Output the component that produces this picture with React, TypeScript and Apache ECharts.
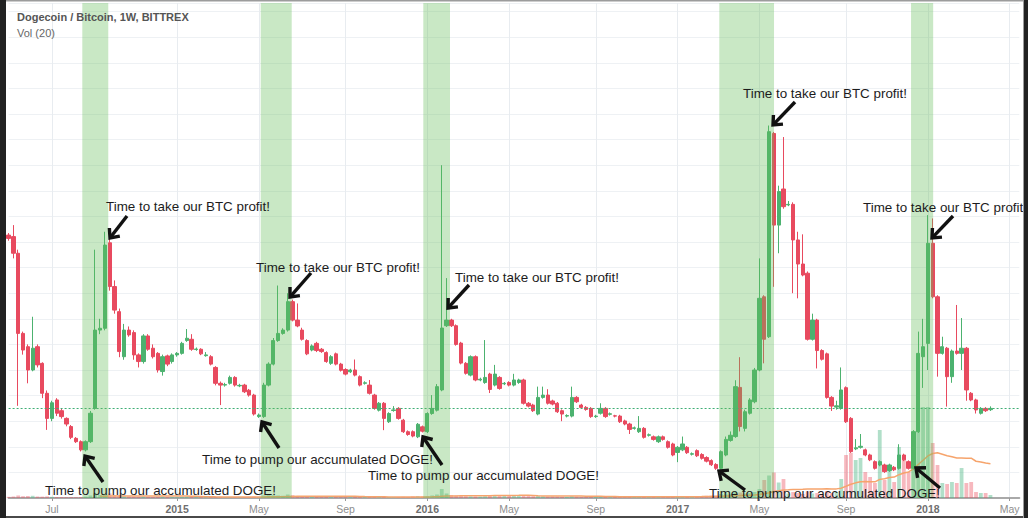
import React, { useEffect, useRef } from 'react';
import * as echarts from 'echarts';

// Weekly DOGE/BTC bars (satoshi), first bar = week of 2014-05-05
const FIRST_WEEK = Date.UTC(2014, 4, 5);
const DAY = 86400000;
const WEEK_SLOTS = 211; // bars plus empty room up to May 2018

const tickWeeks = [9, 35, 52, 70, 87, 104, 122, 139, 156, 174, 191, 208];
const tickLabels = ['Jul', '2015', 'May', 'Sep', '2016', 'May', 'Sep', '2017', 'May', 'Sep', '2018', 'May'];

const opens = [
  112.7, 112.1, 105.6, 74.3, 69.1, 60.0, 69.1, 62.6, 50.9, 41.1,
  48.3, 44.1, 41.1, 37.9, 33.3, 32.0, 28.8, 32.0, 45.0, 75.6,
  76.3, 109.7, 92.6, 82.8, 65.2, 75.6, 74.6, 65.9, 63.3, 73.3,
  68.5, 66.5, 59.4, 65.5, 63.3, 65.9, 66.5, 71.5, 72.0, 68.0,
  68.1, 65.6, 65.2, 61.0, 54.8, 54.1, 54.8, 57.1, 53.8, 54.1,
  52.1, 50.2, 41.8, 41.8, 54.1, 62.3, 71.5, 74.3, 75.6, 86.7,
  79.5, 75.6, 71.5, 67.8, 70.4, 68.1, 66.8, 62.6, 66.3, 62.3,
  60.2, 59.3, 60.0, 57.4, 54.8, 54.1, 50.2, 44.3, 47.0, 39.8,
  44.2, 45.0, 40.4, 35.9, 35.9, 33.9, 37.8, 35.9, 43.0, 44.3,
  52.2, 77.3, 79.5, 77.3, 70.5, 62.6, 58.0, 65.2, 56.1, 55.1,
  58.4, 54.1, 57.1, 54.6, 55.1, 54.1, 55.1, 56.1, 47.0, 46.3,
  42.8, 49.3, 50.2, 47.9, 47.0, 44.1, 42.0, 42.0, 49.3, 46.3,
  45.4, 45.0, 41.8, 43.1, 45.0, 42.7, 42.1, 42.0, 40.1, 38.9,
  37.2, 35.9, 37.2, 34.5, 33.9, 32.0, 33.9, 32.0, 31.1, 27.8,
  28.8, 29.8, 27.1, 28.5, 27.0, 25.8, 24.6, 23.1, 21.6, 26.8,
  32.5, 34.0, 53.2, 37.2, 43.1, 47.6, 60.0, 88.6, 73.0, 152.4,
  116.6, 130.7, 124.5, 124.7, 110.8, 101.4, 97.8, 72.0, 79.5, 67.6,
  66.3, 49.3, 45.5, 45.0, 53.1, 41.1, 29.2, 29.8, 28.8, 26.8,
  24.2, 22.9, 22.9, 20.7, 22.0, 21.6, 26.8, 24.2, 21.6, 35.9,
  65.2, 70.4, 109.5, 88.6, 66.5, 68.5, 57.4, 67.4, 66.5, 68.5,
  50.9, 48.3, 43.1, 45.0, 44.5,
];

const closes = [
  111.4, 105.6, 74.3, 67.8, 60.0, 68.5, 62.0, 50.9, 41.1, 47.2,
  43.1, 41.8, 38.9, 33.7, 32.0, 28.8, 32.0, 43.1, 75.6, 76.3,
  108.8, 92.6, 83.4, 67.2, 75.6, 73.7, 65.9, 63.3, 73.3, 68.1,
  65.2, 60.0, 65.2, 62.3, 65.9, 66.5, 70.4, 72.4, 68.1, 68.2,
  66.3, 65.9, 62.3, 54.8, 54.1, 54.3, 57.1, 54.1, 54.0, 51.5,
  50.2, 42.8, 42.4, 54.1, 62.3, 71.5, 74.3, 75.6, 86.7, 79.5,
  77.2, 72.0, 66.3, 69.4, 67.6, 67.2, 63.3, 65.2, 62.3, 59.9,
  58.4, 60.0, 58.0, 54.1, 55.0, 50.9, 45.0, 47.0, 41.1, 43.0,
  44.4, 41.1, 35.9, 34.8, 34.2, 38.8, 36.1, 43.0, 45.0, 53.5,
  76.4, 79.5, 77.3, 70.0, 62.7, 58.7, 65.2, 56.1, 56.4, 57.1,
  52.4, 58.4, 52.8, 54.8, 54.1, 56.1, 56.1, 47.0, 45.9, 44.1,
  49.3, 50.2, 47.0, 46.7, 43.7, 42.8, 42.2, 49.3, 47.6, 45.4,
  44.6, 41.8, 42.0, 45.0, 41.8, 42.9, 42.0, 39.8, 38.9, 36.8,
  37.4, 37.2, 33.7, 34.7, 32.9, 33.9, 32.9, 29.8, 26.8, 29.8,
  31.1, 27.7, 27.3, 26.5, 25.5, 24.4, 23.0, 21.6, 28.1, 32.9,
  34.5, 53.5, 37.9, 43.7, 48.3, 60.0, 88.0, 72.0, 153.1, 116.6,
  129.7, 123.8, 124.7, 110.8, 101.4, 97.1, 72.0, 79.5, 67.6, 64.2,
  49.3, 45.9, 46.0, 52.2, 39.8, 28.1, 29.6, 30.2, 26.8, 24.9,
  21.6, 24.2, 20.3, 22.9, 21.0, 26.8, 24.9, 21.6, 35.9, 66.5,
  69.1, 109.5, 88.6, 66.5, 69.1, 57.4, 67.4, 66.5, 68.5, 52.2,
  48.3, 44.4, 45.0, 44.1, 45.0,
];

const lows = [
  110.5, 103.6, 46.0, 66.0, 54.8, 59.5, 61.0, 49.0, 36.6, 40.0,
  42.0, 41.0, 38.0, 33.0, 31.5, 28.2, 28.2, 31.5, 44.5, 74.0,
  75.5, 91.0, 82.0, 65.0, 64.0, 73.0, 64.0, 61.0, 62.5, 67.5,
  64.5, 59.0, 57.8, 61.5, 62.5, 65.2, 66.0, 71.0, 67.5, 67.5,
  65.8, 65.2, 61.8, 54.0, 46.3, 53.5, 54.3, 53.5, 53.3, 51.0,
  49.6, 42.2, 41.3, 41.3, 53.6, 61.8, 71.0, 73.8, 75.0, 79.0,
  76.7, 71.5, 65.8, 67.3, 67.0, 66.7, 62.8, 62.0, 61.8, 59.4,
  57.9, 58.8, 57.5, 53.6, 54.3, 50.4, 44.5, 43.8, 36.5, 39.3,
  43.7, 40.6, 35.4, 34.3, 33.7, 33.4, 35.6, 35.4, 42.5, 43.8,
  51.7, 76.8, 76.8, 69.5, 62.2, 58.2, 57.5, 55.6, 55.6, 54.6,
  51.0, 53.6, 52.3, 54.1, 53.6, 53.6, 54.6, 46.5, 45.4, 43.6,
  42.3, 48.8, 46.5, 46.2, 43.2, 40.0, 41.5, 41.5, 47.1, 44.9,
  44.1, 41.3, 41.3, 42.6, 41.3, 42.2, 41.5, 39.3, 38.4, 35.0,
  36.7, 35.4, 33.2, 34.0, 32.4, 31.5, 32.4, 29.3, 26.3, 24.0,
  28.3, 27.2, 26.6, 26.0, 25.0, 23.9, 22.5, 21.0, 21.1, 26.3,
  32.0, 33.5, 36.0, 36.0, 42.6, 47.0, 59.5, 62.6, 72.5, 92.5,
  105.6, 123.0, 124.0, 90.0, 88.0, 96.6, 71.5, 71.5, 60.6, 63.7,
  48.8, 44.0, 44.5, 44.5, 39.3, 27.6, 28.7, 29.3, 26.3, 24.4,
  21.1, 22.4, 19.8, 20.2, 20.5, 21.1, 24.4, 21.1, 21.1, 35.4,
  53.0, 60.0, 88.0, 57.4, 66.0, 45.7, 55.0, 66.0, 60.0, 48.0,
  47.8, 43.0, 42.6, 43.6, 44.0,
];

const highs = [
  113.5, 116.6, 107.0, 75.0, 70.0, 80.8, 70.0, 63.0, 52.0, 48.0,
  49.0, 45.0, 41.5, 38.5, 33.8, 32.5, 32.5, 44.0, 107.0, 80.0,
  114.0, 112.0, 95.0, 84.0, 78.0, 77.0, 75.5, 66.5, 74.0, 74.0,
  70.0, 67.0, 66.0, 66.0, 66.5, 67.0, 71.0, 76.0, 74.0, 68.8,
  68.5, 67.0, 65.8, 61.5, 55.5, 55.0, 57.8, 57.6, 54.6, 54.6,
  52.6, 50.7, 43.0, 55.0, 63.0, 72.5, 93.0, 76.3, 90.0, 87.5,
  86.0, 76.5, 72.0, 70.0, 71.0, 68.6, 67.3, 65.8, 66.8, 62.8,
  60.7, 60.5, 64.1, 57.9, 55.6, 56.1, 50.7, 47.5, 47.5, 43.5,
  45.9, 45.5, 40.9, 36.4, 36.4, 39.3, 38.3, 43.5, 50.2, 54.5,
  140.0, 95.9, 80.0, 77.8, 71.0, 63.1, 65.7, 65.7, 57.0, 71.7,
  58.9, 62.0, 57.6, 55.3, 55.6, 58.5, 56.6, 56.6, 47.5, 46.8,
  53.5, 53.5, 52.5, 48.4, 47.5, 44.6, 42.7, 53.5, 49.8, 46.8,
  45.9, 45.5, 42.5, 47.0, 45.5, 43.4, 42.5, 42.5, 40.6, 39.4,
  37.9, 42.0, 37.7, 35.2, 34.4, 34.4, 34.4, 32.5, 31.6, 30.3,
  34.0, 30.3, 27.8, 29.0, 27.5, 26.3, 25.1, 23.6, 28.6, 34.0,
  36.0, 56.0, 65.0, 44.5, 49.0, 60.8, 103.6, 89.2, 155.5, 153.0,
  132.0, 151.0, 126.0, 125.5, 114.0, 113.0, 98.5, 82.0, 80.0, 68.1,
  66.8, 49.8, 48.0, 61.0, 53.6, 41.6, 33.0, 35.0, 29.3, 27.3,
  24.7, 24.7, 23.4, 23.4, 22.5, 31.0, 27.3, 24.7, 36.5, 75.0,
  80.0, 120.5, 119.2, 89.2, 73.0, 69.0, 68.0, 85.4, 80.3, 69.0,
  51.4, 48.8, 45.5, 45.5, 45.8,
];

// Weekly traded volume (BTC)
const volumes = [
  12, 15, 25, 18, 20, 22, 15, 14, 16, 12,
  10, 10, 9, 10, 9, 10, 14, 25, 45, 30,
  40, 45, 30, 25, 18, 15, 14, 12, 16, 12,
  10, 12, 14, 10, 9, 8, 10, 14, 12, 9,
  8, 8, 9, 10, 12, 8, 8, 9, 8, 10,
  9, 15, 10, 25, 30, 28, 25, 22, 35, 28,
  18, 16, 14, 10, 10, 9, 10, 8, 9, 8,
  8, 7, 9, 10, 8, 9, 12, 10, 14, 10,
  8, 9, 12, 10, 15, 20, 16, 18, 25, 35,
  90, 45, 30, 25, 20, 18, 16, 15, 14, 18,
  20, 22, 20, 24, 28, 26, 22, 30, 20, 18,
  22, 16, 14, 15, 14, 12, 10, 18, 14, 12,
  11, 12, 10, 12, 10, 9, 10, 12, 14, 11,
  10, 12, 15, 12, 14, 12, 16, 18, 16, 20,
  16, 14, 15, 18, 20, 22, 24, 26, 40, 45,
  40, 60, 55, 45, 50, 60, 90, 180, 225, 255,
  155, 190, 45, 60, 50, 40, 65, 45, 50, 40,
  70, 50, 60, 190, 430, 450, 380, 400, 260, 210,
  150, 680, 180, 280, 160, 510, 410, 260, 670, 910,
  910, 910, 550, 330, 150, 140, 160, 150, 300, 150,
  160, 60, 50, 50, 30,
];

// Accumulation windows, in week positions
const bandStarts = [15.31, 52.38, 86.16, 147.66, 187.5];
const bandEnds = [20.71, 58.82, 91.71, 159.03, 192.1];

const PROFIT_TEXT = 'Time to take our BTC profit!';
const PUMP_TEXT = 'Time to pump our accumulated DOGE!';
const profitNotes = [[106, 206], [256, 267], [455, 277], [743, 93], [863, 207]];
const pumpNotes = [[45, 490], [202, 459], [368, 475], [709, 493]];
// tail x, tail y, head x, head y
const arrows = [
  [103, 482, 85, 456],
  [127, 216, 110, 238],
  [311, 273, 290, 297],
  [279, 448, 262, 422],
  [469, 285, 448, 308],
  [442, 465, 423, 437],
  [795, 102, 773, 125],
  [745, 490, 719, 471],
  [953, 216, 932, 238],
  [940, 488, 916, 468],
];

const UP = '#4cb26f';
const DOWN = '#e84a5f';
const VOL_UP = 'rgba(83,185,135,0.45)';
const VOL_DOWN = 'rgba(235,77,92,0.4)';

function weekName(i: number) {
  return new Date(FIRST_WEEK + i * 7 * DAY).toISOString().slice(0, 10);
}

function movingAverage(values: number[], n: number) {
  return values.map((_, i) => {
    if (i < n - 1) return null;
    let s = 0;
    for (let k = i - n + 1; k <= i; k++) s += values[k];
    return +(s / n).toFixed(2);
  });
}

function arrowShapes(tx: number, ty: number, hx: number, hy: number) {
  const dx = hx - tx;
  const dy = hy - ty;
  const len = Math.hypot(dx, dy);
  const ux = dx / len;
  const uy = dy / len;
  const arm = 10;
  const spread = 0.72;
  const side = (s: number) => {
    const bx = -ux;
    const by = -uy;
    return [hx + arm * (bx * Math.cos(s) - by * Math.sin(s)), hy + arm * (bx * Math.sin(s) + by * Math.cos(s))];
  };
  return [
    {
      type: 'line',
      z: 150,
      silent: true,
      shape: { x1: tx, y1: ty, x2: hx - ux * 1.5, y2: hy - uy * 1.5 },
      style: { stroke: '#111', lineWidth: 3.4 },
    },
    {
      type: 'polyline',
      z: 150,
      silent: true,
      shape: { points: [side(spread), [hx, hy], side(-spread)] },
      style: { stroke: '#111', lineWidth: 3.4, fill: null, lineJoin: 'miter' },
    },
  ];
}

function buildOption() {
  const weeks = Array.from({ length: WEEK_SLOTS }, (_, i) => weekName(i));
  const isTick = (index: number) => tickWeeks.indexOf(index) >= 0;
  const candles = opens.map((o, i) => [o, closes[i], lows[i], highs[i]]);
  const volBars = volumes.map((v, i) => ({
    value: v,
    itemStyle: { color: closes[i] >= opens[i] ? VOL_UP : VOL_DOWN },
  }));
  const volMa = movingAverage(volumes, 20);
  const lastClose = closes[closes.length - 1];
  const noteFont = '13.4px "Liberation Sans", Arial, sans-serif';

  const graphic: any[] = [];
  profitNotes.forEach(([x, y]) =>
    graphic.push({ type: 'text', z: 140, silent: true, x, y, style: { text: PROFIT_TEXT, font: noteFont, fill: '#1c1c1c', align: 'left', verticalAlign: 'middle' } })
  );
  pumpNotes.forEach(([x, y]) =>
    graphic.push({ type: 'text', z: 140, silent: true, x, y, style: { text: PUMP_TEXT, font: noteFont, fill: '#1c1c1c', align: 'left', verticalAlign: 'middle' } })
  );
  arrows.forEach(([tx, ty, hx, hy]) => graphic.push(...arrowShapes(tx, ty, hx, hy)));
  graphic.push(
    { type: 'text', z: 140, silent: true, x: 17, y: 16.5, style: { text: 'Dogecoin / Bitcoin, 1W, BITTREX', font: 'bold 11px "Liberation Sans", Arial, sans-serif', fill: '#555', verticalAlign: 'middle' } },
    { type: 'text', z: 140, silent: true, x: 17, y: 33, style: { text: 'Vol (20)', font: '11px "Liberation Sans", Arial, sans-serif', fill: '#666', verticalAlign: 'middle' } },
    { type: 'rect', z: 200, silent: true, shape: { x: 6, y: 0, width: 1018, height: 1.5 }, style: { fill: '#9c9c9c' } },
    { type: 'rect', z: 200, silent: true, shape: { x: 6, y: 516, width: 1018, height: 2 }, style: { fill: '#4a4a4a' } },
    { type: 'rect', z: 200, silent: true, shape: { x: 0, y: 0, width: 6, height: 518 }, style: { fill: '#222' } },
    { type: 'rect', z: 200, silent: true, shape: { x: 1023, y: 0, width: 1, height: 518 }, style: { fill: '#9c9c9c' } },
    { type: 'rect', z: 200, silent: true, shape: { x: 1024, y: 0, width: 4, height: 518 }, style: { fill: '#222' } }
  );

  return {
    animation: false,
    backgroundColor: '#ffffff',
    grid: { left: 8.6, right: 8.67, top: 3, bottom: 20, containLabel: false, outerBoundsMode: 'none' },
    xAxis: [
      {
        type: 'category',
        data: weeks,
        boundaryGap: false,
        offset: 2,
        axisLine: { show: true, lineStyle: { color: '#a9a9a9', width: 2 } },
        axisTick: { show: true, interval: isTick, length: 3, lineStyle: { color: '#9a9a9a' } },
        axisLabel: {
          interval: isTick,
          margin: 3,
          formatter: (_v: string, index: number) => {
            const t = tickLabels[tickWeeks.indexOf(index)] || '';
            return /^\d{4}$/.test(t) ? `{yr|${t}}` : `{mo|${t}}`;
          },
          rich: {
            yr: { fontFamily: '"Liberation Sans", Arial, sans-serif', fontSize: 10.5, fontWeight: 'bold', color: '#6f6f6f' },
            mo: { fontFamily: '"Liberation Sans", Arial, sans-serif', fontSize: 10.5, color: '#8e8e8e' },
          },
        },
        splitLine: { show: true, interval: isTick, lineStyle: { color: '#e8ecf0', width: 1 } },
      },
      { type: 'value', min: 0, max: WEEK_SLOTS - 1, show: false },
    ],
    yAxis: [
      {
        type: 'value',
        min: 10,
        max: 203.36,
        interval: 10,
        axisLabel: { show: false },
        axisLine: { show: false },
        axisTick: { show: false },
        splitLine: { show: true, lineStyle: { color: '#eef1f4', width: 1 } },
      },
      { type: 'value', min: 0, max: 4950, show: false, splitLine: { show: false } },
    ],
    series: [
      {
        name: 'Volume',
        type: 'bar',
        xAxisIndex: 0,
        yAxisIndex: 1,
        barWidth: 3.8,
        silent: true,
        z: 1,
        data: volBars,
      },
      {
        name: 'Vol MA 20',
        type: 'line',
        xAxisIndex: 0,
        yAxisIndex: 1,
        showSymbol: false,
        silent: true,
        z: 2,
        lineStyle: { color: '#f6a46c', width: 1.5 },
        data: volMa,
      },
      {
        name: 'DOGE/BTC',
        type: 'candlestick',
        xAxisIndex: 0,
        yAxisIndex: 0,
        barWidth: 3.8,
        z: 3,
        itemStyle: { color: UP, color0: DOWN, borderColor: UP, borderColor0: DOWN, borderWidth: 1 },
        data: candles,
        markLine: {
          silent: true,
          symbol: 'none',
          label: { show: false },
          lineStyle: { color: '#3fae75', type: [2, 2], width: 1 },
          data: [{ yAxis: lastClose }],
        },
      },
      {
        name: 'Accumulation',
        type: 'line',
        xAxisIndex: 1,
        yAxisIndex: 0,
        data: [],
        silent: true,
        markArea: {
          silent: true,
          z: 10,
          itemStyle: { color: 'rgba(100,190,90,0.35)' },
          data: bandStarts.map((s, i) => [{ xAxis: s }, { xAxis: bandEnds[i] }]),
        },
      },
    ],
    graphic,
  };
}

export default function App() {
  const ref = useRef<HTMLDivElement>(null);
  useEffect(() => {
    const el = ref.current;
    if (!el) return;
    const chart = echarts.init(el, undefined, { renderer: 'svg' });
    chart.setOption(buildOption() as any);
    return () => chart.dispose();
  }, []);
  return <div ref={ref} style={{ position: 'absolute', left: 0, top: 0, width: 1028, height: 518 }} />;
}
